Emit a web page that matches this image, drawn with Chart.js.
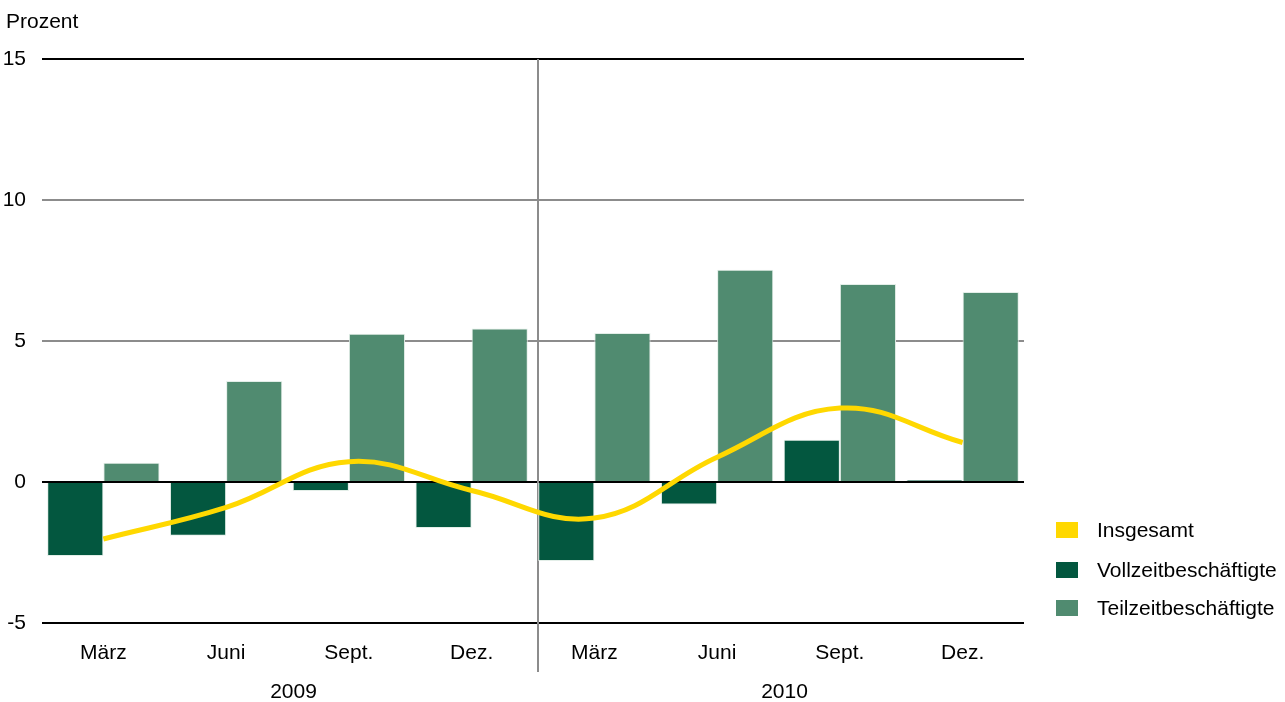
<!DOCTYPE html>
<html>
<head>
<meta charset="utf-8">
<script src="https://cdn.jsdelivr.net/npm/chart.js@4.4.1/dist/chart.umd.min.js"></script>
<style>
  html, body { margin: 0; padding: 0; background: #fff; }
  #chart { display: block; }
</style>
</head>
<body>
<canvas id="chart" width="1285" height="702"></canvas>
<script>
// quarter labels on the x axis, two years of four quarters
const categories = ['März', 'Juni', 'Sept.', 'Dez.', 'März', 'Juni', 'Sept.', 'Dez.'];
const years = ['2009', '2010'];
const yTicks = [-5, 0, 5, 10, 15];

const seriesNames = ['Insgesamt', 'Vollzeitbeschäftigte', 'Teilzeitbeschäftigte'];
const insgesamt = [-2.02, -0.9, 0.72, -0.3, -1.28, 0.88, 2.62, 1.4];
const vollzeit = [-2.62, -1.91, -0.32, -1.63, -2.8, -0.8, 1.5, 0.07];
const teilzeit = [0.68, 3.58, 5.26, 5.44, 5.28, 7.53, 7.02, 6.74];

const colors = ['#FFD800', '#03573F', '#508B70'];
const FONT = '"Liberation Sans", Arial, sans-serif';

// extra decorations: unit label, year separator, year labels, legend
const extras = {
    id: 'extras',
    beforeDatasetsDraw(chart) {
        const ctx = chart.ctx;
        const x = chart.scales.x;
        const area = chart.chartArea;
        const sepX = (x.getPixelForValue(3) + x.getPixelForValue(4)) / 2 + 5;
        ctx.save();
        ctx.strokeStyle = '#8c8c8c';
        ctx.lineWidth = 2;
        ctx.beginPath();
        ctx.moveTo(sepX, area.top);
        ctx.lineTo(sepX, area.bottom + 49);
        ctx.stroke();
        ctx.restore();
    },
    afterDraw(chart) {
        const ctx = chart.ctx;
        const x = chart.scales.x;
        ctx.save();
        ctx.fillStyle = '#000';
        ctx.font = '21px ' + FONT;
        ctx.textBaseline = 'middle';
        ctx.textAlign = 'left';
        ctx.fillText('Prozent', 6, 22);

        // year labels under each group of four quarters
        ctx.textAlign = 'center';
        years.forEach((yr, i) => {
            const cx = (x.getPixelForValue(i * 4 + 1) + x.getPixelForValue(i * 4 + 2)) / 2 + 6;
            ctx.fillText(yr, cx, 692);
        });

        // legend on the right
        const legendY = [530, 570, 608];
        ctx.textAlign = 'left';
        seriesNames.forEach((name, i) => {
            ctx.fillStyle = colors[i];
            ctx.fillRect(1056, legendY[i] - 8, 22, 16);
            ctx.fillStyle = '#000';
            ctx.fillText(name, 1097, legendY[i] + 1);
        });
        ctx.restore();
    }
};

new Chart(document.getElementById('chart'), {
    type: 'bar',
    data: {
        labels: categories,
        datasets: [
            {
                type: 'line',
                label: seriesNames[0],
                data: insgesamt,
                borderColor: colors[0],
                borderWidth: 5,
                pointRadius: 0,
                tension: 0.4,
                fill: false,
                order: 0
            },
            {
                label: seriesNames[1],
                data: vollzeit,
                backgroundColor: colors[1],
                borderColor: '#e3eee8',
                borderWidth: 1,
                order: 1
            },
            {
                label: seriesNames[2],
                data: teilzeit,
                backgroundColor: colors[2],
                borderColor: '#e3eee8',
                borderWidth: 1,
                order: 1
            }
        ]
    },
    options: {
        responsive: false,
        animation: false,
        layout: { padding: { left: 0, right: 261, top: 59, bottom: 0 } },
        datasets: {
            bar: { categoryPercentage: 0.915, barPercentage: 1.0 }
        },
        scales: {
            x: {
                grid: { display: false, drawTicks: false },
                border: { display: false },
                ticks: {
                    color: '#000',
                    font: { family: FONT, size: 21 },
                    padding: 18,
                    maxRotation: 0,
                    autoSkip: false
                },
                afterFit(scale) { scale.height = 79; }
            },
            y: {
                min: yTicks[0],
                max: yTicks[yTicks.length - 1],
                afterBuildTicks(scale) { scale.ticks = yTicks.map(v => ({ value: v })); },
                grid: {
                    drawTicks: false,
                    lineWidth: 2,
                    color: c => (c.tick && (c.tick.value === 10 || c.tick.value === 5)) ? '#8c8c8c' : '#000'
                },
                border: { display: false },
                ticks: {
                    color: '#000',
                    font: { family: FONT, size: 21 },
                    padding: 16
                },
                afterFit(scale) { scale.width = 42; }
            }
        },
        plugins: {
            legend: { display: false },
            tooltip: { enabled: false }
        }
    },
    plugins: [extras]
});
</script>
</body>
</html>
